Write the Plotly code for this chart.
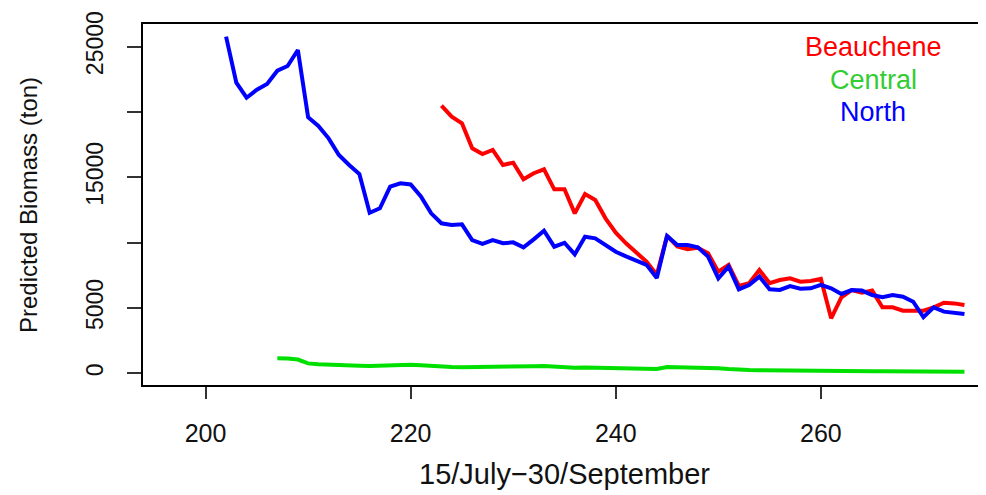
import plotly.graph_objects as go

# ---- data ----
north_days = list(range(202, 275))
north_vals = [25760, 22240, 21090, 21700, 22150, 23160, 23520, 24740, 19590, 18930,
              17980, 16710, 15940, 15250, 12290, 12630, 14280, 14540, 14450, 13540,
              12240, 11480, 11350, 11400, 10200, 9900, 10200, 9950, 10020, 9640,
              10250, 10910, 9690, 9990, 9100, 10450, 10330, 9800, 9300, 8950,
              8600, 8300, 7300, 10510, 9820, 9820, 9640, 8930, 7270, 8160,
              6430, 6760, 7400, 6430, 6380, 6680, 6480, 6500, 6760, 6500,
              6070, 6370, 6330, 5990, 5820, 5990, 5860, 5480, 4290, 5050,
              4720, 4640, 4540]

beauchene_days = list(range(223, 275))
beauchene_vals = [20480, 19640, 19130, 17220, 16780, 17090, 15940, 16120, 14850, 15310,
                  15610, 14080, 14080, 12240, 13720, 13260, 11860, 10760, 9950, 9230,
                  8540, 7550, 10510, 9700, 9490, 9600, 9180, 7780, 8290, 6690,
                  6890, 7910, 6890, 7140, 7270, 7010, 7060, 7220, 4210, 5820,
                  6370, 6170, 6330, 5050, 5050, 4790, 4790, 4790, 5050, 5400,
                  5350, 5230]

central_days = list(range(207, 275))
central_vals = [1150, 1140, 1050, 760, 700, 650, 630, 600, 570, 550,
                580, 620, 670, 660, 610, 550, 500, 480, 470, 470,
                480, 490, 500, 510, 520, 540, 560, 500, 440, 430,
                450, 440, 410, 380, 360, 340, 310, 330, 480, 470,
                450, 420, 400, 390, 330, 260, 250, 240, 240, 230,
                220, 210, 200, 190, 180, 170, 175, 180, 165, 155,
                160, 150, 140, 130, 125, 120, 120, 125]

x_ticks = [200, 220, 240, 260]
y_ticks = [0, 5000, 10000, 15000, 20000, 25000]
y_ticktext = ["0", "5000", "", "15000", "", "25000"]

series_names = ["Beauchene", "Central", "North"]
series_colors = ["#FF0000", "#00E000", "#0000FF"]

FONT = "Liberation Sans, Arial, sans-serif"

fig = go.Figure()
for name, days, vals, col in [
    ("Beauchene", beauchene_days, beauchene_vals, series_colors[0]),
    ("Central", central_days, central_vals, series_colors[1]),
    ("North", north_days, north_vals, series_colors[2]),
]:
    fig.add_trace(go.Scatter(x=days, y=vals, mode="lines", name=name,
                             line=dict(color=col, width=4)))

# page offset caused by default body margin
OFF = 8
W, H = 986 - OFF, 495 - OFF
L, R, T, B = 143 - OFF, 0, 24 - OFF, 110
pw, ph = W - L - R, H - T - B

fig.update_layout(
    width=W, height=H,
    margin=dict(l=L, r=R, t=T, b=B, autoexpand=False),
    paper_bgcolor="white", plot_bgcolor="white",
    showlegend=False,
    font=dict(family=FONT, color="#111111"),
)
fig.update_xaxes(
    range=[193.9, 276.1], tickvals=x_ticks, ticktext=[str(v) for v in x_ticks],
    showgrid=False, zeroline=False, automargin=False,
    showline=True, linecolor="black", linewidth=2, mirror=True,
    ticks="outside", ticklen=12, tickwidth=1.5, tickcolor="#333333",
    ticklabelstandoff=13,
    tickfont=dict(size=25, family=FONT, color="#111111"),
)
fig.update_yaxes(
    range=[-895, 26731], tickvals=y_ticks, ticktext=y_ticktext,
    showgrid=False, zeroline=False, automargin=False,
    showline=True, linecolor="black", linewidth=2, mirror=False,
    ticks="outside", ticklen=14, tickwidth=1.5, tickcolor="#333333",
    tickangle=-90, ticklabelstandoff=15,
    tickfont=dict(size=23, family=FONT, color="#111111"),
)

def px_x(p):
    return (p - OFF - L) / pw

def px_y(p):
    return (H - B - (p - OFF)) / ph

annos = [
    dict(text="Predicted Biomass (ton)", x=px_x(28), y=px_y(205), textangle=-90,
         font=dict(size=24, color="#111111")),
    dict(text="15/July\u221230/September", x=px_x(564), y=px_y(474),
         font=dict(size=29, color="#111111")),
    dict(text="Beauchene", x=px_x(873), y=px_y(47), font=dict(size=27, color=series_colors[0])),
    dict(text="Central", x=px_x(873), y=px_y(80), font=dict(size=27, color="#33CC33")),
    dict(text="North", x=px_x(873), y=px_y(112), font=dict(size=27, color=series_colors[2])),
]
for a in annos:
    fig.add_annotation(xref="paper", yref="paper", showarrow=False,
                       xanchor="center", yanchor="middle",
                       font_family=FONT, **{k: v for k, v in a.items()})

fig.write_html("out.html")
